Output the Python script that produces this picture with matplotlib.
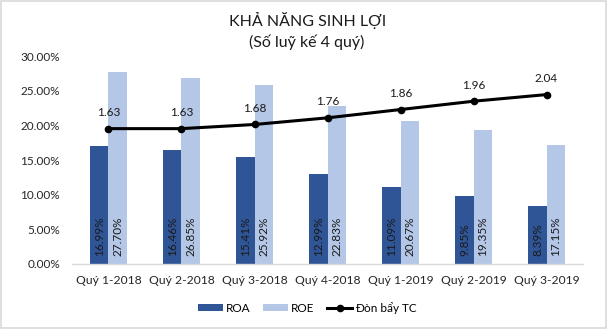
import matplotlib
matplotlib.use("Agg")
import matplotlib.pyplot as plt
from matplotlib.patches import Rectangle
from matplotlib.ticker import FuncFormatter
import numpy as np

plt.rcParams['font.family'] = ['Lato', 'Noto Sans', 'DejaVu Sans']

quarters = ["Quý 1-2018", "Quý 2-2018", "Quý 3-2018", "Quý 4-2018",
            "Quý 1-2019", "Quý 2-2019", "Quý 3-2019"]
roa = [16.99, 16.46, 15.41, 12.99, 11.09, 9.85, 8.39]
roe = [27.70, 26.85, 25.92, 22.83, 20.67, 19.35, 17.15]
leverage = [1.63, 1.63, 1.68, 1.76, 1.86, 1.96, 2.04]

c_roa = "#2F5597"
c_roe = "#B4C7E7"
txt = "#1a1a1a"

fig = plt.figure(figsize=(6.07, 3.29), dpi=100)
fig.patches.append(Rectangle((0.001, 0.003), 0.997, 0.994, transform=fig.transFigure,
                             fill=False, edgecolor="#D9D9D9", linewidth=1.2))

ax = fig.add_axes([0.1186, 0.1976, 0.8419, 0.631])
x = np.arange(len(quarters))
w = 0.25
b1 = ax.bar(x - w / 2, roa, w, color=c_roa, label="ROA")
b2 = ax.bar(x + w / 2, roe, w, color=c_roe, label="ROE")
ax.set_xlim(-0.5, len(quarters) - 0.5)
ax.set_ylim(0, 30)
ax.set_yticks(np.arange(0, 30.01, 5))
ax.yaxis.set_major_formatter(FuncFormatter(lambda v, p: f"{v:.2f}%"))
ax.set_xticks(x)
ax.set_xticklabels(quarters)
ax.tick_params(axis="both", length=0, colors="#262626")
ax.tick_params(axis="y", pad=8.5, labelsize=8.5)
ax.tick_params(axis="x", pad=8, labelsize=8.7)
for s in ["top", "right", "left"]:
    ax.spines[s].set_visible(False)
ax.spines["bottom"].set_color("#D9D9D9")
ax.spines["bottom"].set_linewidth(1)

for xi, v in zip(x - w / 2, roa):
    ax.annotate(f"{v:.2f}%", (xi, 0), xytext=(0, 6), textcoords="offset points",
                rotation=90, ha="center", va="bottom", fontsize=8.5, color=txt)
for xi, v in zip(x + w / 2, roe):
    ax.annotate(f"{v:.2f}%", (xi, 0), xytext=(0, 6), textcoords="offset points",
                rotation=90, ha="center", va="bottom", fontsize=8.5, color=txt)

ax2 = ax.twinx()
ax2.set_ylim(0, 2.5)
ax2.set_yticks([])
for s in ax2.spines.values():
    s.set_visible(False)
ln, = ax2.plot(x, leverage, color="black", linewidth=2.2, marker="o", markersize=4.5,
               label="Đòn bẩy TC")
for xi, v in zip(x, leverage):
    ax2.annotate(f"{v:.2f}", (xi, v), xytext=(0, 11.5), textcoords="offset points",
                 ha="center", va="center", fontsize=8.5, color=txt)

fig.text(0.506, 0.939, "KHẢ NĂNG SINH LỢI", ha="center", va="center", fontsize=11.5,
         color=txt)
fig.text(0.506, 0.872, "(Số luỹ kế 4 quý)", ha="center", va="center", fontsize=11.5,
         color=txt)

fig.legend(handles=[b1, b2, ln], loc="center", bbox_to_anchor=(0.506, 0.064), ncol=3,
           frameon=False, fontsize=8.5, handlelength=2.1, handleheight=0.55,
           columnspacing=1.1, handletextpad=0.25)

fig.savefig("out.png", dpi=100)
